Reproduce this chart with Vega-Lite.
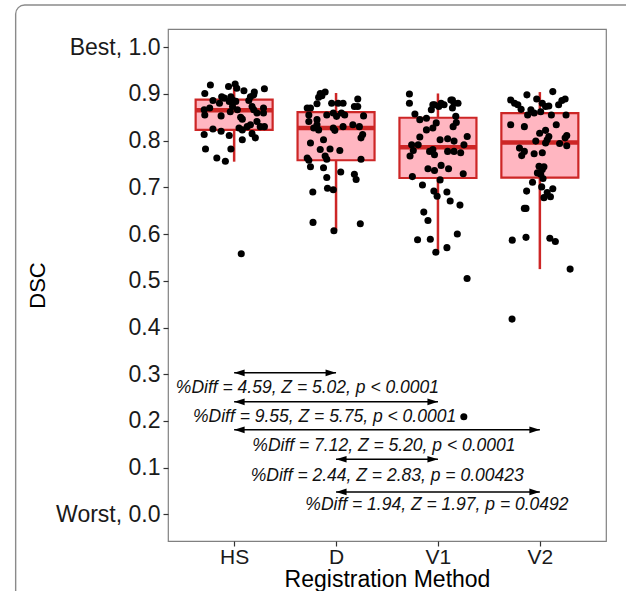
{
  "$schema": "https://vega.github.io/schema/vega-lite/v6.json",
  "width": 438,
  "height": 512,
  "autosize": {"type": "none"},
  "padding": {"left": 168, "top": 29, "right": 20, "bottom": 50},
  "background": "white",
  "config": {"font": "Liberation Sans", "view": {"stroke": "#808080", "strokeWidth": 1.2}},
  "datasets": {
    "frame": [{"x1": -1.144, "x2": 5.2, "y1": 1.0904, "y2": -0.3}],
    "boxes": [
      {"method": "HS", "m": 1, "lo": 0.755, "q1": 0.823, "med": 0.865, "q3": 0.888, "hi": 0.92},
      {"method": "D", "m": 2, "lo": 0.608, "q1": 0.758, "med": 0.827, "q3": 0.861, "hi": 0.902},
      {"method": "V1", "m": 3, "lo": 0.561, "q1": 0.72, "med": 0.786, "q3": 0.849, "hi": 0.901},
      {"method": "V2", "m": 4, "lo": 0.525, "q1": 0.721, "med": 0.796, "q3": 0.859, "hi": 0.904}
    ],
    "points": [
      {"method": "HS", "pos": 0.767, "dsc": 0.919}, {"method": "HS", "pos": 0.945, "dsc": 0.916}, {"method": "HS", "pos": 1.01, "dsc": 0.921},
      {"method": "HS", "pos": 1.026, "dsc": 0.912}, {"method": "HS", "pos": 1.096, "dsc": 0.907}, {"method": "HS", "pos": 1.297, "dsc": 0.911},
      {"method": "HS", "pos": 1.198, "dsc": 0.904}, {"method": "HS", "pos": 0.712, "dsc": 0.901}, {"method": "HS", "pos": 0.878, "dsc": 0.894},
      {"method": "HS", "pos": 0.904, "dsc": 0.891}, {"method": "HS", "pos": 0.968, "dsc": 0.894}, {"method": "HS", "pos": 0.984, "dsc": 0.887},
      {"method": "HS", "pos": 1.016, "dsc": 0.884}, {"method": "HS", "pos": 0.792, "dsc": 0.886}, {"method": "HS", "pos": 0.856, "dsc": 0.88},
      {"method": "HS", "pos": 1.144, "dsc": 0.886}, {"method": "HS", "pos": 1.192, "dsc": 0.898}, {"method": "HS", "pos": 0.706, "dsc": 0.866},
      {"method": "HS", "pos": 0.712, "dsc": 0.855}, {"method": "HS", "pos": 0.76, "dsc": 0.87}, {"method": "HS", "pos": 0.872, "dsc": 0.853},
      {"method": "HS", "pos": 0.984, "dsc": 0.873}, {"method": "HS", "pos": 1.032, "dsc": 0.866}, {"method": "HS", "pos": 1.064, "dsc": 0.85},
      {"method": "HS", "pos": 1.176, "dsc": 0.873}, {"method": "HS", "pos": 1.192, "dsc": 0.866}, {"method": "HS", "pos": 1.224, "dsc": 0.859},
      {"method": "HS", "pos": 1.288, "dsc": 0.87}, {"method": "HS", "pos": 1.288, "dsc": 0.859}, {"method": "HS", "pos": 0.962, "dsc": 0.862},
      {"method": "HS", "pos": 1.08, "dsc": 0.846}, {"method": "HS", "pos": 0.792, "dsc": 0.825}, {"method": "HS", "pos": 0.872, "dsc": 0.82},
      {"method": "HS", "pos": 0.952, "dsc": 0.811}, {"method": "HS", "pos": 1.048, "dsc": 0.827}, {"method": "HS", "pos": 1.08, "dsc": 0.823},
      {"method": "HS", "pos": 1.128, "dsc": 0.83}, {"method": "HS", "pos": 1.16, "dsc": 0.834}, {"method": "HS", "pos": 1.224, "dsc": 0.841},
      {"method": "HS", "pos": 1.256, "dsc": 0.83}, {"method": "HS", "pos": 1.297, "dsc": 0.83}, {"method": "HS", "pos": 1.176, "dsc": 0.815},
      {"method": "HS", "pos": 1.208, "dsc": 0.806}, {"method": "HS", "pos": 1.08, "dsc": 0.802}, {"method": "HS", "pos": 0.706, "dsc": 0.813},
      {"method": "HS", "pos": 0.719, "dsc": 0.782}, {"method": "HS", "pos": 0.968, "dsc": 0.782}, {"method": "HS", "pos": 0.83, "dsc": 0.763},
      {"method": "HS", "pos": 0.914, "dsc": 0.756}, {"method": "HS", "pos": 1.07, "dsc": 0.558}, {"method": "HS", "pos": 0.952, "dsc": 0.884},
      {"method": "HS", "pos": 1.16, "dsc": 0.894},
      {"method": "D", "pos": 1.845, "dsc": 0.901}, {"method": "D", "pos": 1.893, "dsc": 0.904}, {"method": "D", "pos": 1.861, "dsc": 0.896},
      {"method": "D", "pos": 1.829, "dsc": 0.893}, {"method": "D", "pos": 1.813, "dsc": 0.879}, {"method": "D", "pos": 1.717, "dsc": 0.87},
      {"method": "D", "pos": 1.749, "dsc": 0.87}, {"method": "D", "pos": 1.957, "dsc": 0.88}, {"method": "D", "pos": 2.021, "dsc": 0.88},
      {"method": "D", "pos": 2.069, "dsc": 0.88}, {"method": "D", "pos": 2.213, "dsc": 0.889}, {"method": "D", "pos": 2.18, "dsc": 0.873},
      {"method": "D", "pos": 2.213, "dsc": 0.873}, {"method": "D", "pos": 1.733, "dsc": 0.855}, {"method": "D", "pos": 1.733, "dsc": 0.841},
      {"method": "D", "pos": 1.813, "dsc": 0.845}, {"method": "D", "pos": 1.813, "dsc": 0.834}, {"method": "D", "pos": 1.781, "dsc": 0.827},
      {"method": "D", "pos": 1.829, "dsc": 0.823}, {"method": "D", "pos": 1.909, "dsc": 0.855}, {"method": "D", "pos": 1.973, "dsc": 0.859},
      {"method": "D", "pos": 2.005, "dsc": 0.852}, {"method": "D", "pos": 2.053, "dsc": 0.859}, {"method": "D", "pos": 2.085, "dsc": 0.855},
      {"method": "D", "pos": 2.069, "dsc": 0.83}, {"method": "D", "pos": 1.973, "dsc": 0.827}, {"method": "D", "pos": 1.988, "dsc": 0.822},
      {"method": "D", "pos": 2.165, "dsc": 0.834}, {"method": "D", "pos": 2.229, "dsc": 0.83}, {"method": "D", "pos": 2.27, "dsc": 0.853},
      {"method": "D", "pos": 2.245, "dsc": 0.806}, {"method": "D", "pos": 2.261, "dsc": 0.813}, {"method": "D", "pos": 1.749, "dsc": 0.795},
      {"method": "D", "pos": 1.845, "dsc": 0.781}, {"method": "D", "pos": 1.941, "dsc": 0.782}, {"method": "D", "pos": 2.037, "dsc": 0.779},
      {"method": "D", "pos": 1.877, "dsc": 0.802}, {"method": "D", "pos": 1.717, "dsc": 0.763}, {"method": "D", "pos": 1.733, "dsc": 0.758},
      {"method": "D", "pos": 1.749, "dsc": 0.744}, {"method": "D", "pos": 1.893, "dsc": 0.767}, {"method": "D", "pos": 1.909, "dsc": 0.76},
      {"method": "D", "pos": 2.245, "dsc": 0.76}, {"method": "D", "pos": 1.877, "dsc": 0.742}, {"method": "D", "pos": 2.046, "dsc": 0.733},
      {"method": "D", "pos": 1.909, "dsc": 0.721}, {"method": "D", "pos": 2.18, "dsc": 0.728}, {"method": "D", "pos": 2.197, "dsc": 0.717},
      {"method": "D", "pos": 1.772, "dsc": 0.69}, {"method": "D", "pos": 1.916, "dsc": 0.698}, {"method": "D", "pos": 1.973, "dsc": 0.695},
      {"method": "D", "pos": 1.774, "dsc": 0.625}, {"method": "D", "pos": 2.238, "dsc": 0.622}, {"method": "D", "pos": 1.979, "dsc": 0.607},
      {"method": "V1", "pos": 2.72, "dsc": 0.9}, {"method": "V1", "pos": 2.72, "dsc": 0.88}, {"method": "V1", "pos": 2.774, "dsc": 0.857},
      {"method": "V1", "pos": 2.822, "dsc": 0.845}, {"method": "V1", "pos": 2.887, "dsc": 0.848}, {"method": "V1", "pos": 2.966, "dsc": 0.877},
      {"method": "V1", "pos": 3.031, "dsc": 0.88}, {"method": "V1", "pos": 3.008, "dsc": 0.873}, {"method": "V1", "pos": 2.935, "dsc": 0.866},
      {"method": "V1", "pos": 3.127, "dsc": 0.887}, {"method": "V1", "pos": 3.158, "dsc": 0.88}, {"method": "V1", "pos": 3.197, "dsc": 0.88},
      {"method": "V1", "pos": 3.142, "dsc": 0.87}, {"method": "V1", "pos": 3.175, "dsc": 0.852}, {"method": "V1", "pos": 3.18, "dsc": 0.839},
      {"method": "V1", "pos": 3.149, "dsc": 0.83}, {"method": "V1", "pos": 2.887, "dsc": 0.823}, {"method": "V1", "pos": 2.95, "dsc": 0.827},
      {"method": "V1", "pos": 2.822, "dsc": 0.808}, {"method": "V1", "pos": 2.742, "dsc": 0.791}, {"method": "V1", "pos": 2.806, "dsc": 0.791},
      {"method": "V1", "pos": 2.758, "dsc": 0.779}, {"method": "V1", "pos": 2.726, "dsc": 0.767}, {"method": "V1", "pos": 2.918, "dsc": 0.777},
      {"method": "V1", "pos": 2.95, "dsc": 0.781}, {"method": "V1", "pos": 2.966, "dsc": 0.77}, {"method": "V1", "pos": 3.021, "dsc": 0.802},
      {"method": "V1", "pos": 3.095, "dsc": 0.804}, {"method": "V1", "pos": 3.158, "dsc": 0.799}, {"method": "V1", "pos": 3.287, "dsc": 0.809},
      {"method": "V1", "pos": 3.255, "dsc": 0.791}, {"method": "V1", "pos": 3.223, "dsc": 0.774}, {"method": "V1", "pos": 3.095, "dsc": 0.777},
      {"method": "V1", "pos": 3.158, "dsc": 0.777}, {"method": "V1", "pos": 2.902, "dsc": 0.74}, {"method": "V1", "pos": 2.966, "dsc": 0.736},
      {"method": "V1", "pos": 3.031, "dsc": 0.747}, {"method": "V1", "pos": 3.104, "dsc": 0.74}, {"method": "V1", "pos": 3.248, "dsc": 0.729},
      {"method": "V1", "pos": 2.749, "dsc": 0.723}, {"method": "V1", "pos": 2.848, "dsc": 0.705}, {"method": "V1", "pos": 3.021, "dsc": 0.716},
      {"method": "V1", "pos": 2.96, "dsc": 0.692}, {"method": "V1", "pos": 2.992, "dsc": 0.681}, {"method": "V1", "pos": 3.088, "dsc": 0.69},
      {"method": "V1", "pos": 3.12, "dsc": 0.671}, {"method": "V1", "pos": 3.216, "dsc": 0.662}, {"method": "V1", "pos": 2.861, "dsc": 0.647},
      {"method": "V1", "pos": 2.902, "dsc": 0.629}, {"method": "V1", "pos": 2.8, "dsc": 0.588}, {"method": "V1", "pos": 2.925, "dsc": 0.589},
      {"method": "V1", "pos": 3.19, "dsc": 0.6}, {"method": "V1", "pos": 3.088, "dsc": 0.571}, {"method": "V1", "pos": 2.979, "dsc": 0.561},
      {"method": "V1", "pos": 3.286, "dsc": 0.505}, {"method": "V1", "pos": 3.254, "dsc": 0.209}, {"method": "V1", "pos": 2.95, "dsc": 0.877},
      {"method": "V1", "pos": 3.142, "dsc": 0.887}, {"method": "V1", "pos": 2.983, "dsc": 0.838}, {"method": "V1", "pos": 3.06, "dsc": 0.877},
      {"method": "V2", "pos": 3.714, "dsc": 0.887}, {"method": "V2", "pos": 3.752, "dsc": 0.88}, {"method": "V2", "pos": 3.784, "dsc": 0.877},
      {"method": "V2", "pos": 3.816, "dsc": 0.867}, {"method": "V2", "pos": 3.873, "dsc": 0.898}, {"method": "V2", "pos": 3.969, "dsc": 0.889},
      {"method": "V2", "pos": 4.024, "dsc": 0.88}, {"method": "V2", "pos": 4.056, "dsc": 0.873}, {"method": "V2", "pos": 4.088, "dsc": 0.874},
      {"method": "V2", "pos": 4.008, "dsc": 0.862}, {"method": "V2", "pos": 3.944, "dsc": 0.859}, {"method": "V2", "pos": 3.912, "dsc": 0.866},
      {"method": "V2", "pos": 3.88, "dsc": 0.855}, {"method": "V2", "pos": 4.127, "dsc": 0.905}, {"method": "V2", "pos": 4.184, "dsc": 0.877},
      {"method": "V2", "pos": 4.216, "dsc": 0.886}, {"method": "V2", "pos": 4.248, "dsc": 0.889}, {"method": "V2", "pos": 4.257, "dsc": 0.855},
      {"method": "V2", "pos": 4.113, "dsc": 0.855}, {"method": "V2", "pos": 4.161, "dsc": 0.834}, {"method": "V2", "pos": 3.848, "dsc": 0.83},
      {"method": "V2", "pos": 3.714, "dsc": 0.834}, {"method": "V2", "pos": 3.998, "dsc": 0.816}, {"method": "V2", "pos": 4.056, "dsc": 0.822},
      {"method": "V2", "pos": 4.088, "dsc": 0.809}, {"method": "V2", "pos": 4.072, "dsc": 0.802}, {"method": "V2", "pos": 4.056, "dsc": 0.795},
      {"method": "V2", "pos": 4.264, "dsc": 0.811}, {"method": "V2", "pos": 4.248, "dsc": 0.806}, {"method": "V2", "pos": 4.194, "dsc": 0.794},
      {"method": "V2", "pos": 4.264, "dsc": 0.789}, {"method": "V2", "pos": 3.96, "dsc": 0.799}, {"method": "V2", "pos": 3.8, "dsc": 0.784},
      {"method": "V2", "pos": 3.848, "dsc": 0.777}, {"method": "V2", "pos": 3.822, "dsc": 0.768}, {"method": "V2", "pos": 3.944, "dsc": 0.772},
      {"method": "V2", "pos": 4.024, "dsc": 0.774}, {"method": "V2", "pos": 3.992, "dsc": 0.745}, {"method": "V2", "pos": 4.024, "dsc": 0.738},
      {"method": "V2", "pos": 4.04, "dsc": 0.744}, {"method": "V2", "pos": 3.976, "dsc": 0.731}, {"method": "V2", "pos": 4.008, "dsc": 0.728},
      {"method": "V2", "pos": 4.031, "dsc": 0.719}, {"method": "V2", "pos": 3.928, "dsc": 0.711}, {"method": "V2", "pos": 4.018, "dsc": 0.701},
      {"method": "V2", "pos": 3.87, "dsc": 0.692}, {"method": "V2", "pos": 4.072, "dsc": 0.689}, {"method": "V2", "pos": 4.04, "dsc": 0.678},
      {"method": "V2", "pos": 4.104, "dsc": 0.68}, {"method": "V2", "pos": 4.127, "dsc": 0.697}, {"method": "V2", "pos": 3.848, "dsc": 0.655},
      {"method": "V2", "pos": 3.864, "dsc": 0.655}, {"method": "V2", "pos": 3.729, "dsc": 0.587}, {"method": "V2", "pos": 3.864, "dsc": 0.593},
      {"method": "V2", "pos": 4.098, "dsc": 0.591}, {"method": "V2", "pos": 4.152, "dsc": 0.584}, {"method": "V2", "pos": 4.297, "dsc": 0.525},
      {"method": "V2", "pos": 3.727, "dsc": 0.418}
    ],
    "arrows": [
      {"from": 1, "to": 2, "level": 0.303},
      {"from": 1, "to": 3, "level": 0.241},
      {"from": 1, "to": 4, "level": 0.181},
      {"from": 2, "to": 3, "level": 0.118},
      {"from": 2, "to": 4, "level": 0.048}
    ],
    "notes": [
      {"label": "%Diff = 4.59, Z = 5.02, p < 0.0001", "tx": 1.719, "ty": 0.2595},
      {"label": "%Diff = 9.55, Z = 5.75, p < 0.0001", "tx": 1.887, "ty": 0.1975},
      {"label": "%Diff = 7.12, Z = 5.20, p < 0.0001", "tx": 2.47, "ty": 0.1355},
      {"label": "%Diff = 2.44, Z = 2.83, p = 0.00423", "tx": 2.502, "ty": 0.0712},
      {"label": "%Diff = 1.94, Z = 1.97, p = 0.0492", "tx": 2.99, "ty": 0.0085}
    ]
  },
  "layer": [
    {
      "data": {"name": "frame"},
      "mark": {"type": "rect", "fill": "transparent", "stroke": "#8a8a8a", "strokeWidth": 1.4, "cornerRadius": 9},
      "encoding": {
        "x": {"field": "x1", "type": "quantitative", "title": "Registration Method", "scale": {"domain": [0.4, 4.6], "nice": false, "zero": false}},
        "x2": {"field": "x2"},
        "y": {"field": "y1", "type": "quantitative", "title": "DSC", "scale": {"domain": [-0.057, 1.039], "nice": false, "zero": false}},
        "y2": {"field": "y2"}
      }
    },
    {
      "data": {"name": "boxes"},
      "mark": {"type": "rule", "color": "#CD2626", "strokeWidth": 2.5},
      "encoding": {
        "x": {"field": "m", "type": "quantitative", "title": "Registration Method", "scale": {"domain": [0.4, 4.6], "nice": false, "zero": false}},
        "y": {"field": "lo", "type": "quantitative", "title": "DSC", "scale": {"domain": [-0.057, 1.039], "nice": false, "zero": false}},
        "y2": {"field": "hi"}
      }
    },
    {
      "data": {"name": "boxes"},
      "mark": {"type": "bar", "width": 77, "fill": "#FFB6C1", "stroke": "#CD2626", "strokeWidth": 2.2},
      "encoding": {
        "x": {"field": "m", "type": "quantitative", "title": "Registration Method", "scale": {"domain": [0.4, 4.6], "nice": false, "zero": false}},
        "y": {"field": "q1", "type": "quantitative", "title": "DSC", "scale": {"domain": [-0.057, 1.039], "nice": false, "zero": false}},
        "y2": {"field": "q3"}
      }
    },
    {
      "data": {"name": "boxes"},
      "mark": {"type": "tick", "orient": "horizontal", "size": 77, "thickness": 4.5, "color": "#CD2626", "opacity": 1},
      "encoding": {
        "x": {"field": "m", "type": "quantitative", "title": "Registration Method", "scale": {"domain": [0.4, 4.6], "nice": false, "zero": false}},
        "y": {"field": "med", "type": "quantitative", "title": "DSC", "scale": {"domain": [-0.057, 1.039], "nice": false, "zero": false}}
      }
    },
    {
      "data": {"name": "points"},
      "mark": {"type": "circle", "size": 50, "color": "#000000", "opacity": 1},
      "encoding": {
        "x": {
          "field": "pos", "type": "quantitative", "title": "Registration Method",
          "scale": {"domain": [0.4, 4.6], "nice": false, "zero": false},
          "axis": {
            "values": [1, 2, 3, 4],
            "labelExpr": "['', 'HS', 'D', 'V1', 'V2'][datum.value]",
            "grid": false, "domain": false,
            "tickSize": 5, "tickColor": "#333333", "tickWidth": 1.2,
            "labelFontSize": 21, "labelColor": "#1a1a1a", "labelPadding": 0, "labelFont": "Liberation Sans",
            "titleFontSize": 23, "titleFontWeight": "normal", "titleColor": "#000000",
            "titleFont": "Liberation Sans", "titlePadding": 1
          }
        },
        "y": {
          "field": "dsc", "type": "quantitative", "title": "DSC",
          "scale": {"domain": [-0.057, 1.039], "nice": false, "zero": false},
          "axis": {
            "values": [0, 0.1, 0.2, 0.3, 0.4, 0.5, 0.6, 0.7, 0.8, 0.9, 1],
            "labelExpr": "datum.value == 1 ? 'Best, 1.0' : (datum.value == 0 ? 'Worst, 0.0' : format(datum.value, '.1f'))",
            "grid": false, "domain": false,
            "tickSize": 5, "tickColor": "#333333", "tickWidth": 1.2,
            "labelFontSize": 23, "labelColor": "#1a1a1a", "labelPadding": 3, "labelFont": "Liberation Sans",
            "titleFontSize": 22, "titleFontWeight": "normal", "titleColor": "#000000",
            "titleFont": "Liberation Sans", "titlePadding": 6
          }
        }
      }
    },
    {
      "data": {"name": "arrows"},
      "mark": {"type": "rule", "color": "#000000", "strokeWidth": 1.6},
      "encoding": {
        "x": {"field": "from", "type": "quantitative", "title": "Registration Method", "scale": {"domain": [0.4, 4.6], "nice": false, "zero": false}},
        "x2": {"field": "to"},
        "y": {"field": "level", "type": "quantitative", "title": "DSC", "scale": {"domain": [-0.057, 1.039], "nice": false, "zero": false}}
      }
    },
    {
      "data": {"name": "arrows"},
      "mark": {"type": "point", "shape": "M0,0L1,-0.32L1,0.32Z", "size": 440, "filled": true, "color": "#000000", "opacity": 1},
      "encoding": {
        "x": {"field": "from", "type": "quantitative", "title": "Registration Method", "scale": {"domain": [0.4, 4.6], "nice": false, "zero": false}},
        "y": {"field": "level", "type": "quantitative", "title": "DSC", "scale": {"domain": [-0.057, 1.039], "nice": false, "zero": false}}
      }
    },
    {
      "data": {"name": "arrows"},
      "mark": {"type": "point", "shape": "M0,0L-1,-0.32L-1,0.32Z", "size": 440, "filled": true, "color": "#000000", "opacity": 1},
      "encoding": {
        "x": {"field": "to", "type": "quantitative", "title": "Registration Method", "scale": {"domain": [0.4, 4.6], "nice": false, "zero": false}},
        "y": {"field": "level", "type": "quantitative", "title": "DSC", "scale": {"domain": [-0.057, 1.039], "nice": false, "zero": false}}
      }
    },
    {
      "data": {"name": "notes"},
      "mark": {"type": "text", "fontSize": 17.5, "fontStyle": "italic", "font": "Liberation Sans", "align": "center", "baseline": "alphabetic", "color": "#111111"},
      "encoding": {
        "x": {"field": "tx", "type": "quantitative", "title": "Registration Method", "scale": {"domain": [0.4, 4.6], "nice": false, "zero": false}},
        "y": {"field": "ty", "type": "quantitative", "title": "DSC", "scale": {"domain": [-0.057, 1.039], "nice": false, "zero": false}},
        "text": {"field": "label"}
      }
    }
  ]
}
